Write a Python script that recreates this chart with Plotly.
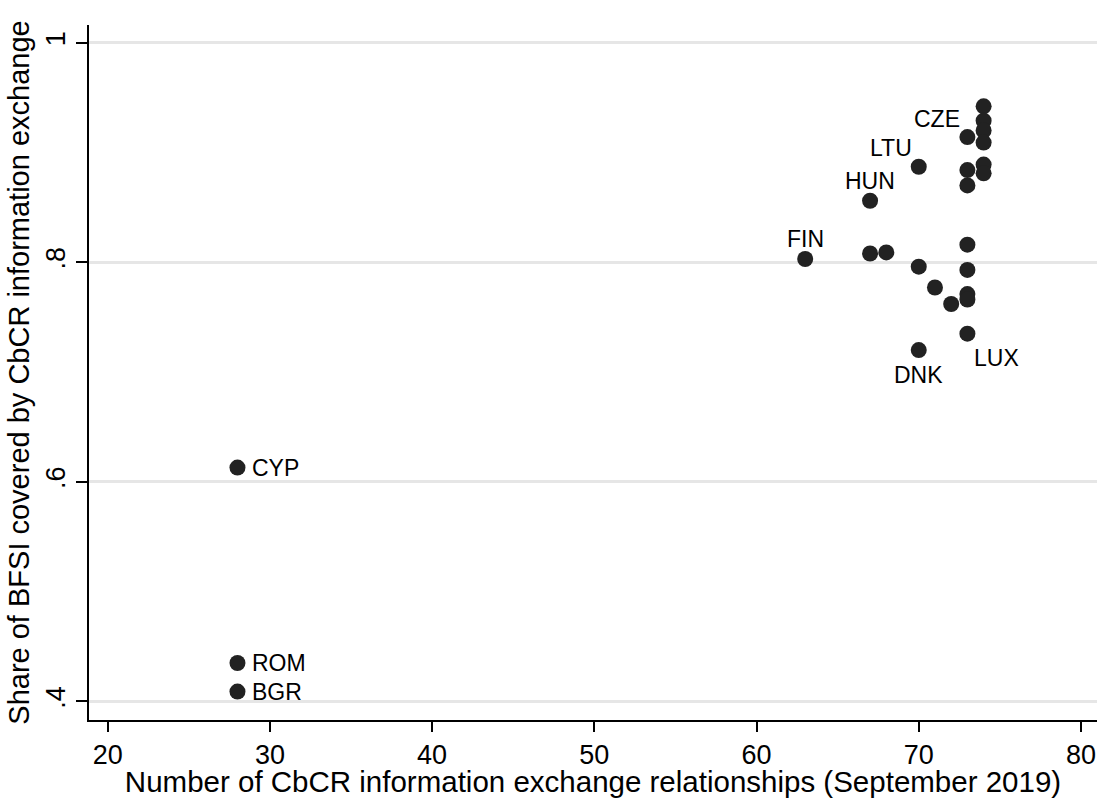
import plotly.graph_objects as go

# Data
countries = ["CYP", "ROM", "BGR", "FIN", "HUN", "", "", "LTU", "", "DNK",
             "", "", "CZE", "", "", "", "", "", "", "LUX",
             "", "", "", "", "", ""]
relationships = [28, 28, 28, 63, 67, 67, 68, 70, 70, 70,
                 71, 72, 73, 73, 73, 73, 73, 73, 73, 73,
                 74, 74, 74, 74, 74, 74]
share_bfsi = [0.613, 0.435, 0.409, 0.803, 0.856, 0.808, 0.809, 0.887, 0.796, 0.720,
              0.777, 0.762, 0.914, 0.884, 0.870, 0.816, 0.793, 0.771, 0.766, 0.735,
              0.942, 0.929, 0.920, 0.909, 0.889, 0.881]

x_ticks = [20, 30, 40, 50, 60, 70, 80]
y_ticks = [0.4, 0.6, 0.8, 1.0]
y_tick_text = [".4", ".6", ".8", "1"]

FONT = "Arial, Liberation Sans, sans-serif"

# label placement (pixel offsets) per labelled country
label_style = {
    "CYP": dict(xshift=13, yshift=0, xanchor="left"),
    "ROM": dict(xshift=13, yshift=0, xanchor="left"),
    "BGR": dict(xshift=13, yshift=0, xanchor="left"),
    "FIN": dict(xshift=0, yshift=20, xanchor="center"),
    "HUN": dict(xshift=0, yshift=20, xanchor="center"),
    "LTU": dict(xshift=-28, yshift=19, xanchor="center"),
    "CZE": dict(xshift=-30, yshift=18, xanchor="center"),
    "DNK": dict(xshift=0, yshift=-25, xanchor="center"),
    "LUX": dict(xshift=29, yshift=-24, xanchor="center"),
}

fig = go.Figure()
fig.add_trace(go.Scatter(
    x=relationships, y=share_bfsi, mode="markers",
    marker=dict(size=16, color="#222222", line=dict(width=0)),
    hoverinfo="text", text=countries, showlegend=False,
))

annotations = []
for name, xv, yv in zip(countries, relationships, share_bfsi):
    if not name:
        continue
    st = label_style[name]
    annotations.append(dict(
        x=xv, y=yv, xref="x", yref="y", text=name, showarrow=False,
        xanchor=st["xanchor"], yanchor="middle",
        xshift=st["xshift"], yshift=st["yshift"],
        font=dict(family=FONT, size=23, color="#000000"),
    ))

fig.update_layout(
    width=1097, height=798,
    margin=dict(l=89, r=0, t=25, b=78),
    paper_bgcolor="white", plot_bgcolor="white",
    font=dict(family=FONT, color="#000000"),
    annotations=annotations,
    xaxis=dict(
        range=[18.847, 80.99], tickvals=x_ticks, ticktext=[str(v) for v in x_ticks],
        showgrid=False, zeroline=False,
        showline=True, linecolor="#000000", linewidth=1.5,
        ticks="outside", ticklen=10, tickwidth=1.5, tickcolor="#000000",
        tickfont=dict(family=FONT, size=27), ticklabeloverflow="allow",
        title=dict(text="Number of CbCR information exchange relationships (September 2019)",
                   font=dict(family=FONT, size=29.5), standoff=7),
        automargin=False,
    ),
    yaxis=dict(
        range=[0.3831, 1.0161], tickvals=y_ticks, ticktext=y_tick_text,
        tickangle=-90,
        showgrid=True, gridcolor="#e6e6e6", gridwidth=2.5, zeroline=False,
        showline=True, linecolor="#000000", linewidth=1.5,
        ticks="outside", ticklen=11, tickwidth=1.5, tickcolor="#000000",
        tickfont=dict(family=FONT, size=27), ticklabeloverflow="allow",
        title=dict(text="Share of BFSI covered by CbCR information exchange",
                   font=dict(family=FONT, size=29), standoff=3),
        automargin=False,
    ),
)

fig.write_html(
    "out.html",
    config={"displayModeBar": False},
    post_script="document.body.style.margin='0';document.body.style.overflow='hidden';",
)
